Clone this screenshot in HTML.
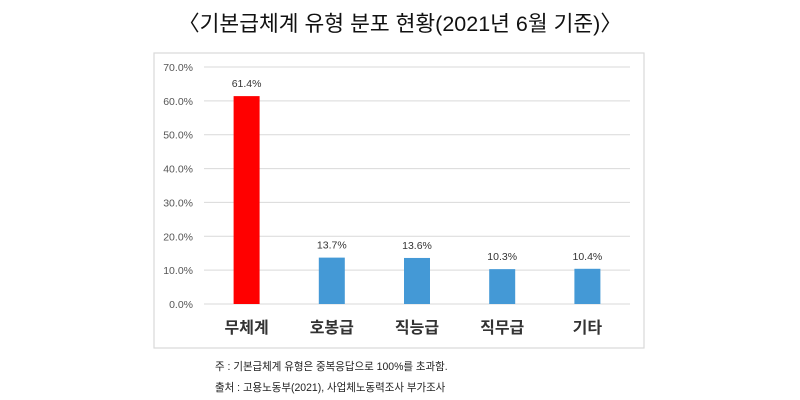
<!DOCTYPE html>
<html><head><meta charset="utf-8"><style>
body{margin:0;width:800px;height:400px;background:#fff;overflow:hidden;font-family:"Liberation Sans","Noto Sans CJK KR",sans-serif}
.t{position:absolute;white-space:nowrap}
</style></head><body>
<div class="t" style="left:0;width:800px;text-align:center;top:7px;font-size:21.5px;color:#111">〈기본급체계 유형 분포 현황(2021년 6월 기준)〉</div>
<svg style="position:absolute;left:0;top:0" width="800" height="400" id="svg">
<rect x="154" y="53" width="490" height="295" fill="#fff" stroke="#d9d9d9" stroke-width="1.2"/>
</svg>
<div class="t" style="left:215px;top:358px;font-size:11px;color:#222;transform:scaleX(0.95);transform-origin:left">주 : 기본급체계 유형은 중복응답으로 100%를 초과함.</div>
<div class="t" style="left:215px;top:379px;font-size:11px;color:#222;transform:scaleX(0.95);transform-origin:left">출처 : 고용노동부(2021), 사업체노동력조사 부가조사</div>
<script>
const categories=["무체계","호봉급","직능급","직무급","기타"];
const values=[61.4,13.7,13.6,10.3,10.4];
const valueLabels=["61.4%","13.7%","13.6%","10.3%","10.4%"];
const yTicks=[0,10,20,30,40,50,60,70];
const yTickLabels=["0.0%","10.0%","20.0%","30.0%","40.0%","50.0%","60.0%","70.0%"];
const svg=document.getElementById('svg');const NS="http://www.w3.org/2000/svg";
const x0=204,x1=630,y0=304,y1=67;
const y=v=>y0-(v/70)*(y0-y1);
const band=(x1-x0)/categories.length;
const xc=i=>x0+band*(i+0.5);
function mk(t,a,txt){const e=document.createElementNS(NS,t);for(const k in a)e.setAttribute(k,a[k]);if(txt!=null)e.textContent=txt;svg.appendChild(e);return e;}
yTicks.forEach((v,i)=>{
 const g=mk('line',{x1:x0,x2:x1,y1:y(v),y2:y(v),stroke:'#d9d9d9','stroke-width':1});
 
 
 const t=mk('text',{x:193,y:y(v)+4,'text-anchor':'end','font-size':10.5,fill:'#555','font-family':'Liberation Sans'},yTickLabels[i]);
 
 
});
categories.forEach((c,i)=>{
 const b=mk('rect',{x:xc(i)-13,y:y(values[i]),width:26,height:y0-y(values[i]),fill:i==0?'#ff0000':'#4499d6'});
 
 
 const l=mk('text',{x:xc(i),y:y(values[i])-9,'text-anchor':'middle','font-size':10.5,fill:'#333','font-family':'Liberation Sans'},valueLabels[i]);
 
 
 const cl=mk('text',{x:xc(i),y:333,'text-anchor':'middle','font-size':16,fill:'#333','font-weight':'bold','font-family':'Noto Sans CJK KR, sans-serif'},c);
 
 
});
</script>
</body></html>
